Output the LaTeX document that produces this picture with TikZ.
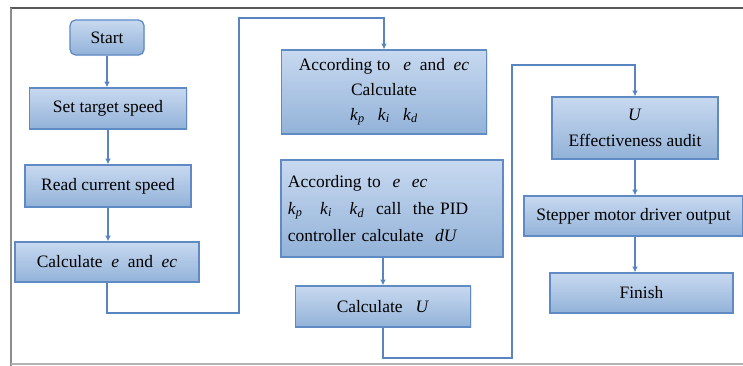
\documentclass[tikz,border=0pt]{standalone}
\usepackage{fontspec}
\setmainfont{Liberation Serif}
\usepackage{tikz}
\usetikzlibrary{arrows.meta,shadows}
\definecolor{boxline}{RGB}{96,138,196}
\definecolor{boxtop}{RGB}{200,217,240}
\definecolor{boxbottom}{RGB}{146,178,216}
\definecolor{transline}{RGB}{88,132,192}
\tikzset{
	pstep/.style={draw=boxline, line width=.9pt, top color=boxtop, bottom color=boxbottom,
		inner sep=2pt, font=\fontsize{12.4}{17.5}\selectfont,
		drop shadow={opacity=.18, shadow xshift=.8pt, shadow yshift=-.8pt}},
	rstep/.style={pstep, rounded corners=4pt},
	trans/.style={draw=transline, line width=.8pt, ->},
	frameline/.style={draw=black!65, line width=1.6pt},
	framethin/.style={draw=black!45, line width=1pt},
	>={Latex[length=4pt,width=4pt]}
}
\newcommand{\vv}[1]{\textit{#1}}
\newcommand{\kk}[1]{\textit{k}\textsubscript{\textit{#1}}}

\begin{document}
\begin{tikzpicture}[x=0.025cm, y=-0.025cm]
		\newcommand{\leftcolpos}{107}
		\newcommand{\midcolpos}{384}
		\newcommand{\rightcolpos}{635}
		\useasboundingbox (0,0) rectangle (743,366);
		% outer frame
		\draw[frameline] (10,8) -- (743,8);
		\draw[framethin] (11,8) -- (11,366);
		\draw[framethin, draw=black!30] (11,364) -- (743,364);

		% left column
		\node [rstep, minimum width=1.85cm, minimum height=.875cm] (start) at (\leftcolpos,37.5) {Start};
		\node [pstep, minimum width=3.925cm, minimum height=1.025cm] (target) at (\leftcolpos+1,108.5) {Set target speed};
		\node [pstep, minimum width=4.15cm, minimum height=1.05cm] (current) at (\leftcolpos+1,186) {Read current speed};
		\node [pstep, minimum width=4.6cm, minimum height=1cm] (error) at (\leftcolpos,262) {Calculate\ \ \vv{e}\ \ and\ \ \vv{ec}};

		% middle column
		\node [pstep, align=center, minimum width=5.125cm, minimum height=2.1cm] (gains) at (\midcolpos,92)
			{According to\ \ \ \vv{e}\ \ and\ \ \vv{ec}\\Calculate\\\kk{p}\ \ \ \kk{i}\ \ \ \kk{d}};
		\node [pstep, align=left, text width=5.2cm, minimum width=5.55cm, minimum height=2.425cm,
			font=\fontsize{12.4}{19}\selectfont] (pid) at (392,208.5)
			{According to\ \ \vv{e}\ \ \vv{ec}\\\kk{p}\ \ \ \kk{i}\ \ \ \kk{d}\ \ call\ \ the PID\\controller calculate\ \ \vv{dU}};
		\node [pstep, minimum width=4.375cm, minimum height=1.025cm] (output) at (383,306.5) {Calculate\ \ \ \vv{U}};

		% right column
		\node [pstep, align=center, minimum width=4.15cm, minimum height=1.55cm,
			font=\fontsize{12.4}{19}\selectfont] (audit) at (\rightcolpos,128) {\vv{U}\\Effectiveness audit};
		\node [pstep, minimum width=5.475cm, minimum height=1cm] (driver) at (\rightcolpos-1.5,216) {Stepper motor driver output};
		\node [pstep, minimum width=4.575cm, minimum height=1cm] (finish) at (\rightcolpos+6.5,293) {Finish};

		\coordinate (loopa) at (239,313);
		\coordinate (loopb) at (239,18);
		\coordinate (loopc) at (512,358);
		\coordinate (loopd) at (512,65);

		\path [trans] (start) -- (start |- target.north);
		\path [trans] (target) -- (target.south |- current.north);
		\path [trans] (current) -- (current.south |- error.north);
		\path [trans] (error.south) |- (loopa) -- (loopb) -| (gains.north);
		\path [trans] (output |- pid.south) -- (output.north);
		\path [trans] (output.south) |- (loopc) -- (loopd) -| (audit.north);
		\path [trans] (audit) -- (audit.south |- driver.north);
		\path [trans] (audit.south |- driver.south) -- (audit.south |- finish.north);
	\end{tikzpicture}
\end{document}
